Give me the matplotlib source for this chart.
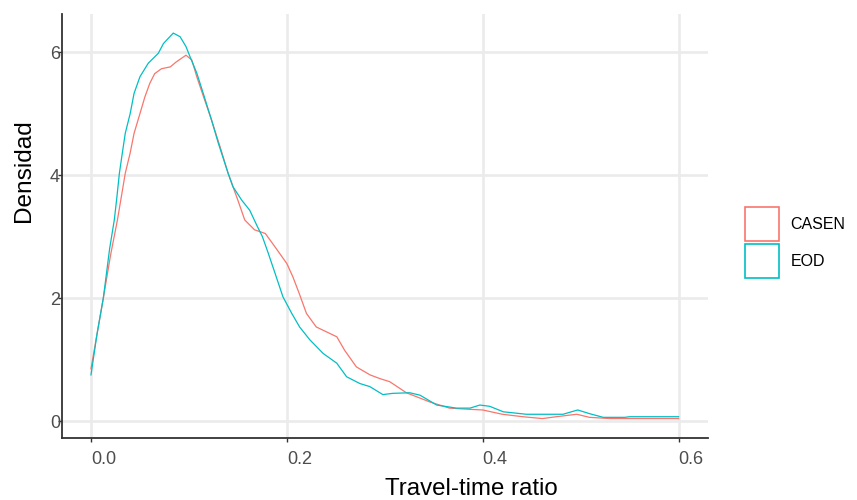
import matplotlib
matplotlib.use("Agg")
import matplotlib.pyplot as plt
from matplotlib.patches import Patch

plt.rcParams['font.family'] = ['Liberation Sans', 'DejaVu Sans']

# ---- data ----
casen_x = [0.000, 0.006, 0.0126, 0.020, 0.027, 0.031, 0.035, 0.040, 0.044, 0.050,
           0.055, 0.060, 0.065, 0.072, 0.081, 0.087, 0.097, 0.103, 0.108, 0.115,
           0.123, 0.132, 0.140, 0.145, 0.150, 0.157, 0.167, 0.178, 0.188, 0.200,
           0.206, 0.2125, 0.220, 0.230, 0.2405, 0.251, 0.259, 0.271, 0.285, 0.295,
           0.305, 0.322, 0.346, 0.366, 0.387, 0.400, 0.420, 0.441, 0.461, 0.475,
           0.496, 0.509, 0.530, 0.600]
casen_y = [0.85, 1.40, 2.00, 2.70, 3.27, 3.65, 4.03, 4.36, 4.68, 5.00,
           5.27, 5.49, 5.65, 5.73, 5.76, 5.84, 5.95, 5.87, 5.60, 5.27,
           4.90, 4.45, 4.03, 3.81, 3.59, 3.27, 3.11, 3.05, 2.83, 2.56,
           2.35, 2.08, 1.75, 1.53, 1.45, 1.37, 1.15, 0.88, 0.75, 0.69,
           0.64, 0.46, 0.31, 0.21, 0.19, 0.18, 0.11, 0.07, 0.04, 0.07,
           0.11, 0.06, 0.04, 0.04]

eod_x = [0.000, 0.006, 0.0126, 0.019, 0.0238, 0.0265, 0.029, 0.032, 0.035, 0.040,
         0.044, 0.050, 0.0585, 0.0687, 0.074, 0.084, 0.091, 0.097, 0.101, 0.108,
         0.1146, 0.123, 0.130, 0.140, 0.145, 0.154, 0.162, 0.170, 0.175, 0.181,
         0.188, 0.196, 0.205, 0.213, 0.2235, 0.237, 0.251, 0.261, 0.2745, 0.2847,
         0.298, 0.308, 0.3255, 0.336, 0.353, 0.373, 0.387, 0.397, 0.407, 0.421,
         0.4445, 0.482, 0.497, 0.509, 0.523, 0.545, 0.550, 0.600]
eod_y = [0.75, 1.40, 2.00, 2.80, 3.27, 3.65, 4.03, 4.36, 4.68, 5.00,
         5.33, 5.60, 5.82, 5.98, 6.14, 6.31, 6.25, 6.09, 5.93, 5.66,
         5.33, 4.90, 4.52, 4.03, 3.81, 3.59, 3.43, 3.16, 3.00, 2.73,
         2.40, 2.02, 1.75, 1.53, 1.32, 1.10, 0.94, 0.72, 0.61, 0.56,
         0.43, 0.45, 0.46, 0.42, 0.26, 0.21, 0.21, 0.26, 0.24, 0.15,
         0.11, 0.11, 0.18, 0.12, 0.06, 0.06, 0.07, 0.07]

series_names = ["CASEN", "EOD"]
series_colors = ["#F8766D", "#00BFC4"]
x_ticks = [0.0, 0.2, 0.4, 0.6]
x_ticklabels = ["0.0", "0.2", "0.4", "0.6"]
y_ticks = [0, 2, 4, 6]
y_ticklabels = ["0", "2", "4", "6"]

W, H = 857, 500
fig = plt.figure(figsize=(W / 100, H / 100), dpi=100)
ax = fig.add_axes([62 / W, 1 - 438 / H, (708 - 62) / W, (438 - 14) / H])

ax.plot(casen_x, casen_y, color=series_colors[0], lw=0.9)
ax.plot(eod_x, eod_y, color=series_colors[1], lw=0.9)

ax.set_xlim(-0.0296, 0.63)
ax.set_ylim(-0.276, 6.62)

ax.set_xticks(x_ticks)
ax.set_xticklabels(x_ticklabels)
ax.set_yticks(y_ticks)
ax.set_yticklabels(y_ticklabels)

ax.grid(True, color="#EBEBEB", lw=1.9)
ax.set_axisbelow(True)
for s in ["top", "right"]:
    ax.spines[s].set_visible(False)
for s in ["left", "bottom"]:
    ax.spines[s].set_color("#333333")
    ax.spines[s].set_linewidth(1.3)

ax.tick_params(axis="x", length=3, width=1.0, color="#333333", labelsize=13,
               labelcolor="#4D4D4D", pad=6.5)
ax.tick_params(axis="y", length=3, width=1.0, color="#333333", labelsize=13,
               labelcolor="#4D4D4D", pad=-1.5)
for lab in ax.get_xticklabels():
    lab.set_ha("left")

fig.text(385 / W, 1 - 495 / H, "Travel-time ratio", ha="left", va="baseline",
         fontsize=17.3, color="black")
fig.text(24 / W, 1 - 222 / H, "Densidad", rotation=90, ha="center", va="bottom",
         fontsize=17.6, color="black")

handles = [Patch(facecolor="white", edgecolor=c, lw=1.2) for c in series_colors]
leg = fig.legend(handles, series_names, loc="center left",
                 bbox_to_anchor=(745 / W, 1 - 242.5 / H), frameon=False,
                 fontsize=11.5, handlelength=2.1, handleheight=2.95,
                 handletextpad=0.75, labelspacing=0.15, borderpad=0,
                 borderaxespad=0)

fig.savefig("out.png", dpi=100)
